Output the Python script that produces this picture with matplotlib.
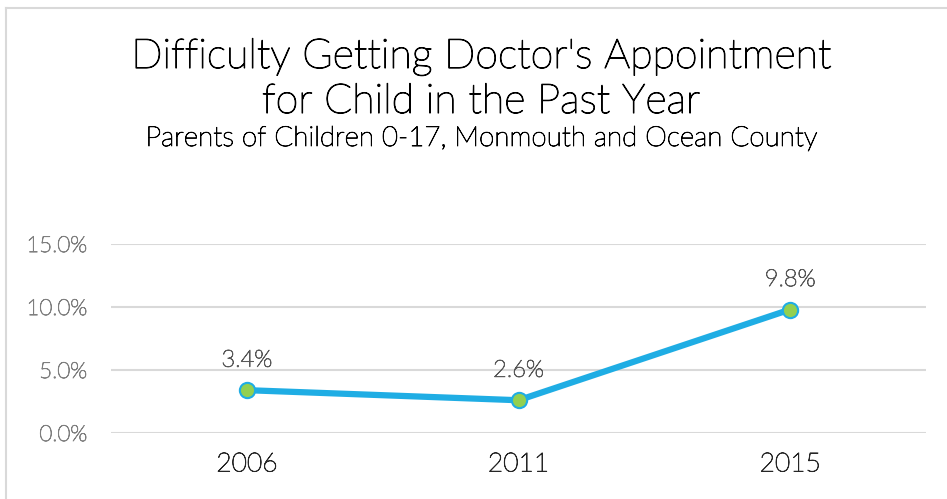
import matplotlib.pyplot as plt
import matplotlib.patheffects as pe

years = ['2006', '2011', '2015']
rates = [3.4, 2.6, 9.8]
y_ticks = [0, 5, 10, 15]

plt.rcParams['font.family'] = ['Lato', 'DejaVu Sans']
plt.rcParams['font.weight'] = 'light'


def thicken(color, w=0.6):
    # Lato Light is a bit thinner than the original font, so stroke it slightly
    return [pe.withStroke(linewidth=w, foreground=color)]


fig = plt.figure(figsize=(9.47, 4.99), dpi=100)
ax = fig.add_axes([111 / 947, 1 - 433 / 499, 815 / 947, 189 / 499])

# light chart-area border (left and top visible)
fig.add_artist(plt.Line2D([6 / 947, 946 / 947], [1 - 8 / 499, 1 - 8 / 499],
                          color='#d9d9d9', linewidth=1.5))
fig.add_artist(plt.Line2D([6 / 947, 6 / 947], [0, 1 - 8 / 499],
                          color='#d9d9d9', linewidth=1.5))

cx = 481 / 947
fig.text(cx, 1 - 68 / 499, "Difficulty Getting Doctor's Appointment", ha='center',
         va='baseline', fontsize=29.6, color='#000000', path_effects=thicken('#000000', 0.8))
fig.text(cx, 1 - 113 / 499, "for Child in the Past Year", ha='center',
         va='baseline', fontsize=29.6, color='#000000', path_effects=thicken('#000000', 0.8))
fig.text(cx, 1 - 146 / 499, "Parents of Children 0-17, Monmouth and Ocean County",
         ha='center', va='baseline', fontsize=20, color='#000000',
         path_effects=thicken('#000000'))

x = range(len(years))
ax.plot(x, rates, color='#1fade4', linewidth=4.5, marker='o', markersize=11,
        markerfacecolor='#92d050', markeredgecolor='#1fade4', markeredgewidth=1.5,
        solid_capstyle='round', zorder=3)
for i, v in enumerate(rates):
    ax.annotate(f'{v:.1f}%', (i, v), xytext=(0, 14), textcoords='offset points',
                ha='center', va='bottom', fontsize=17, color='#595959',
                path_effects=thicken('#595959'))

ax.set_xlim(-0.5, len(years) - 0.5)
ax.set_ylim(0, 15)
ax.set_xticks(list(x))
ax.set_xticklabels(years, fontsize=19, color='#262626', path_effects=thicken('#262626'))
ax.set_yticks(y_ticks)
ax.set_yticklabels([f'{t:.1f}%' for t in y_ticks], fontsize=16, color='#7f7f7f',
                   path_effects=thicken('#7f7f7f'))
ax.tick_params(length=0)
ax.tick_params(axis='x', pad=14)
ax.tick_params(axis='y', pad=17)
ax.grid(axis='y', color='#d9d9d9', linewidth=1.5)
ax.set_axisbelow(True)
for s in ax.spines.values():
    s.set_visible(False)

fig.savefig('out.png', dpi=100)
